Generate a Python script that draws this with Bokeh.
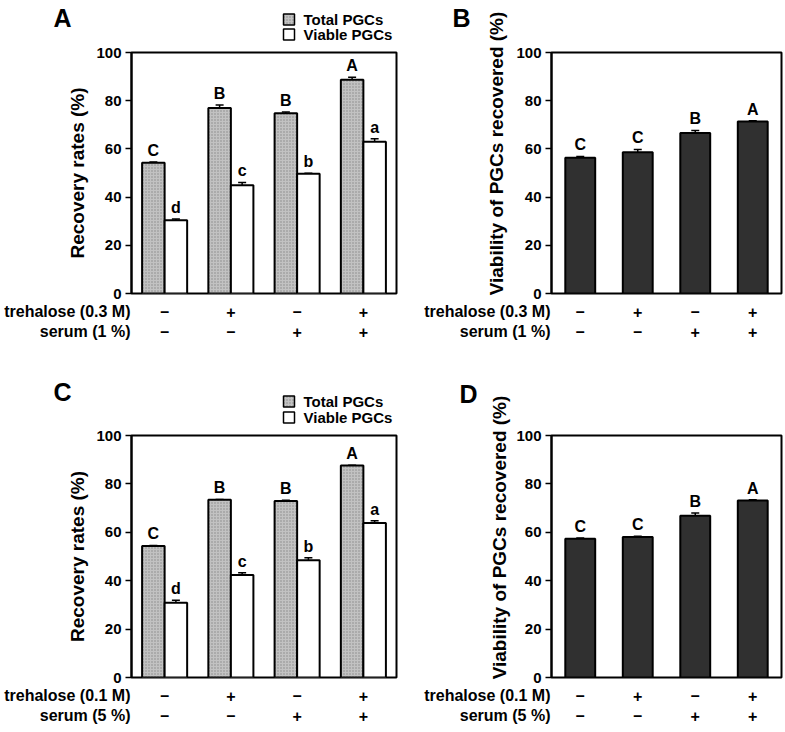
import math
from bokeh.plotting import figure
from bokeh.models import (ColumnDataSource, Whisker, TeeHead, FactorRange, Range1d, FixedTicker,
                          Spacer)
from bokeh.transform import dodge
from bokeh.layouts import column, row
from bokeh.embed import file_html
from bokeh.resources import INLINE
from bokeh.core.properties import value

# ---------------- data ----------------
trehalose_signs = ["\u2013", "+", "\u2013", "+"]
serum_signs = ["\u2013", "\u2013", "+", "+"]
groups = ["T" + t + " S" + s for t, s in zip(trehalose_signs, serum_signs)]
y_ticks = [0, 20, 40, 60, 80, 100]
legend_labels = ["Total PGCs", "Viable PGCs"]

a_total = [54.3, 77.0, 74.8, 88.7]
a_total_err = [0.3, 1.2, 0.5, 1.0]
a_total_letters = ["C", "B", "B", "A"]
a_viable = [30.4, 44.9, 49.7, 63.0]
a_viable_err = [0.5, 1.2, 0.2, 1.2]
a_viable_letters = ["d", "c", "b", "a"]

b_viability = [56.3, 58.6, 66.6, 71.4]
b_err = [0.5, 1.1, 1.0, 0.3]
b_letters = ["C", "C", "B", "A"]

c_total = [54.3, 73.5, 72.9, 87.6]
c_total_err = [0.2, 0.1, 0.3, 0.1]
c_total_letters = ["C", "B", "B", "A"]
c_viable = [30.9, 42.4, 48.5, 63.8]
c_viable_err = [1.0, 0.9, 1.0, 1.0]
c_viable_letters = ["d", "c", "b", "a"]

d_viability = [57.3, 58.1, 66.8, 73.1]
d_err = [0.3, 0.3, 1.2, 0.3]
d_letters = ["C", "C", "B", "A"]

FONT_NAME = "Liberation Sans"
FONT = value(FONT_NAME)
TOTAL_FILL = "#c2c2c2"
DARK_FILL = "#303030"
TOTAL_STYLE = dict(fill_color=TOTAL_FILL, hatch_pattern="dot", hatch_color="#888888",
                   hatch_scale=3, hatch_weight=1, line_color="black")
LETTER_GAP = 1.3   # gap (in % units) between whisker top and significance letter


def text_fig(x0, x1, y0, y1, x_range=None, br=0):
    """A frameless figure whose data space is page pixels (y downwards)."""
    p = figure(width=x1 - x0, height=y1 - y0,
               x_range=x_range if x_range is not None else Range1d(x0, x1),
               y_range=Range1d(y1, y0),
               min_border=0, min_border_left=0, min_border_right=br,
               min_border_top=0, min_border_bottom=0, frame_align=False,
               x_axis_location=None, y_axis_location=None,
               output_backend="svg", toolbar_location=None, tools="")
    p.grid.visible = False
    p.outline_line_color = None
    p.background_fill_color = "white"
    p.border_fill_color = "white"
    return p


def put_text(p, x, y, text, size, align="center", angle=0.0):
    p.text(x=[x], y=[y], text=[text], angle=angle, text_align=align, text_baseline="middle",
           text_font=FONT, text_font_style="bold", text_font_size=size, text_color="black")


def main_fig(x_range, width, height, bl, br, bt, bb, ylabel=None):
    p = figure(x_range=x_range, y_range=Range1d(0, 100), width=width, height=height,
               min_border_left=bl, min_border_right=br, min_border_top=bt, min_border_bottom=bb,
               frame_align=False, x_axis_location=None,
               output_backend="svg", toolbar_location=None, tools="")
    p.grid.visible = False
    p.outline_line_color = "black"
    p.outline_line_width = 2
    p.outline_line_alpha = 1
    p.background_fill_color = "white"
    p.border_fill_color = "white"
    ya = p.yaxis[0]
    ya.ticker = FixedTicker(ticks=y_ticks)
    ya.major_label_text_font = FONT_NAME
    ya.major_label_text_font_style = "bold"
    ya.major_label_text_font_size = "15px"
    ya.major_label_text_color = "black"
    ya.major_tick_out = 6
    ya.major_tick_in = 0
    ya.minor_tick_out = 0
    ya.minor_tick_in = 0
    ya.major_tick_line_width = 1.5
    ya.axis_line_width = 2
    ya.major_label_standoff = 4
    if ylabel:
        ya.axis_label = ylabel
        ya.axis_label_text_font = FONT_NAME
        ya.axis_label_text_font_style = "bold"
        ya.axis_label_text_font_size = "19px"
        ya.axis_label_text_color = "black"
        ya.axis_label_standoff = 5
    return p


def sign_rows(x_range, x0, x1, y0, y1, br, row1_y, row2_y):
    p = text_fig(x0, x1, y0, y1, x_range=x_range, br=br)
    src = ColumnDataSource(dict(x=groups, t=trehalose_signs, s=serum_signs,
                                y1=[row1_y] * len(groups), y2=[row2_y] * len(groups)))
    for col, ycol in (("t", "y1"), ("s", "y2")):
        p.text(x="x", y=ycol, text=col, source=src, text_align="center", text_baseline="middle",
               text_font=FONT, text_font_style="bold", text_font_size="16px", text_color="black")
    return p


def add_whiskers(p, src, xspec):
    p.add_layout(Whisker(source=src, base=xspec, upper="upper", lower="lower",
                         line_color="black", line_width=1.5,
                         upper_head=TeeHead(size=8, line_color="black", line_width=1.5),
                         lower_head=TeeHead(size=8, line_color="black", line_width=1.5)))


def add_letters(p, src, xspec):
    p.text(x=xspec, y="label_y", text="letter", source=src, text_align="center",
           text_baseline="bottom", text_font=FONT, text_font_style="bold",
           text_font_size="16px", text_color="black")


def make_src(vals, errs, letters):
    return ColumnDataSource(dict(
        x=groups, top=vals,
        upper=[v + e for v, e in zip(vals, errs)],
        lower=[v - e for v, e in zip(vals, errs)],
        label_y=[v + e + LETTER_GAP for v, e in zip(vals, errs)],
        letter=letters))


def row_labels(x0, x1, y0, y1, row1_text, row2_text, r1y, r2y):
    lab = text_fig(x0, x1, y0, y1)
    put_text(lab, x1 - 1, r1y, row1_text, "16px", align="right")
    put_text(lab, x1 - 1, r2y, row2_text, "16px", align="right")
    return lab


def recovery_panel(y0, top_h, main_h, bot_h, bt, bb, total, total_err, total_letters,
                   viable, viable_err, viable_letters, letter, letter_y, legend_ys,
                   row1_text, row2_text, r1y, r2y):
    x0, xs, x1 = 0, 131, 400
    # top strip: panel letter + legend
    top = text_fig(x0, x1, y0, y0 + top_h)
    put_text(top, 62, letter_y, letter, "25px")
    top.rect(x=[288.5], y=[legend_ys[0]], width=11, height=11, line_width=1.5, **TOTAL_STYLE)
    top.rect(x=[288.5], y=[legend_ys[1]], width=11, height=11, fill_color="white",
             line_color="black", line_width=1.5)
    for lbl, ly in zip(legend_labels, legend_ys):
        put_text(top, 303, ly, lbl, "15px", align="left")

    # main plot
    xr = FactorRange(*groups)
    p = main_fig(xr, x1 - x0, main_h, xs - x0, 4, bt, bb, ylabel="Recovery rates (%)")
    s_tot = make_src(total, total_err, total_letters)
    s_via = make_src(viable, viable_err, viable_letters)
    x_tot = dodge("x", -0.17, range=xr)
    x_via = dodge("x", 0.17, range=xr)
    p.vbar(x=x_tot, top="top", width=0.34, source=s_tot, line_width=2, **TOTAL_STYLE)
    p.vbar(x=x_via, top="top", width=0.34, source=s_via, fill_color="white",
           line_color="black", line_width=2)
    add_whiskers(p, s_tot, x_tot)
    add_whiskers(p, s_via, x_via)
    add_letters(p, s_tot, x_tot)
    add_letters(p, s_via, x_via)

    # bottom strip: row names + signs
    yb0 = y0 + top_h + main_h
    yb1 = yb0 + bot_h
    lab = row_labels(x0, xs, yb0, yb1, row1_text, row2_text, r1y, r2y)
    signs = sign_rows(xr, xs, x1, yb0, yb1, 4, r1y, r2y)
    return column(top, p, row(lab, signs, spacing=0), spacing=0)


def viability_panel(y0, top_h, main_h, bot_h, bt, bb, vals, errs, letters, letter,
                    letter_xy, title_xy, row1_text, row2_text, r1y, r2y):
    x0, xt, xs, x1 = 400, 513, 551, 785
    yb0 = y0 + top_h + main_h
    yb1 = yb0 + bot_h
    # left column: panel letter + rotated axis title
    left = text_fig(x0, xt, y0, yb0)
    put_text(left, letter_xy[0], letter_xy[1], letter, "25px")
    put_text(left, title_xy[0], title_xy[1], "Viability of PGCs recovered (%)", "19px",
             angle=math.pi / 2)

    xr = FactorRange(*groups)
    p = main_fig(xr, x1 - xt, main_h, xs - xt, 4, bt, bb)
    src = make_src(vals, errs, letters)
    p.vbar(x="x", top="top", width=0.52, source=src, fill_color=DARK_FILL,
           line_color="black", line_width=2)
    add_whiskers(p, src, "x")
    add_letters(p, src, "x")

    lab = row_labels(x0, xs, yb0, yb1, row1_text, row2_text, r1y, r2y)
    signs = sign_rows(xr, xs, x1, yb0, yb1, 4, r1y, r2y)
    upper = row(left, column(Spacer(width=x1 - xt, height=top_h), p, spacing=0), spacing=0)
    return column(upper, row(lab, signs, spacing=0), spacing=0)


pA = recovery_panel(0, 43, 260, 62, 9, 10, a_total, a_total_err, a_total_letters,
                    a_viable, a_viable_err, a_viable_letters, "A", 17, (19, 34),
                    "trehalose (0.3 M)", "serum (1 %)", 311, 331)
pB = viability_panel(0, 43, 260, 62, 9, 10, b_viability, b_err, b_letters, "B", (461, 17),
                     (496, 153), "trehalose (0.3 M)", "serum (1 %)", 311, 331)
pC = recovery_panel(365, 61, 260, 46, 9, 9, c_total, c_total_err, c_total_letters,
                    c_viable, c_viable_err, c_viable_letters, "C", 391, (401, 417),
                    "trehalose (0.1 M)", "serum (5 %)", 695, 715)
pD = viability_panel(365, 61, 260, 46, 9, 9, d_viability, d_err, d_letters, "D", (468, 393),
                     (499, 537), "trehalose (0.1 M)", "serum (5 %)", 695, 715)

layout = column(row(pA, pB, spacing=0), row(pC, pD, spacing=0), spacing=0)
open("out.html", "w").write(file_html(layout, INLINE))
